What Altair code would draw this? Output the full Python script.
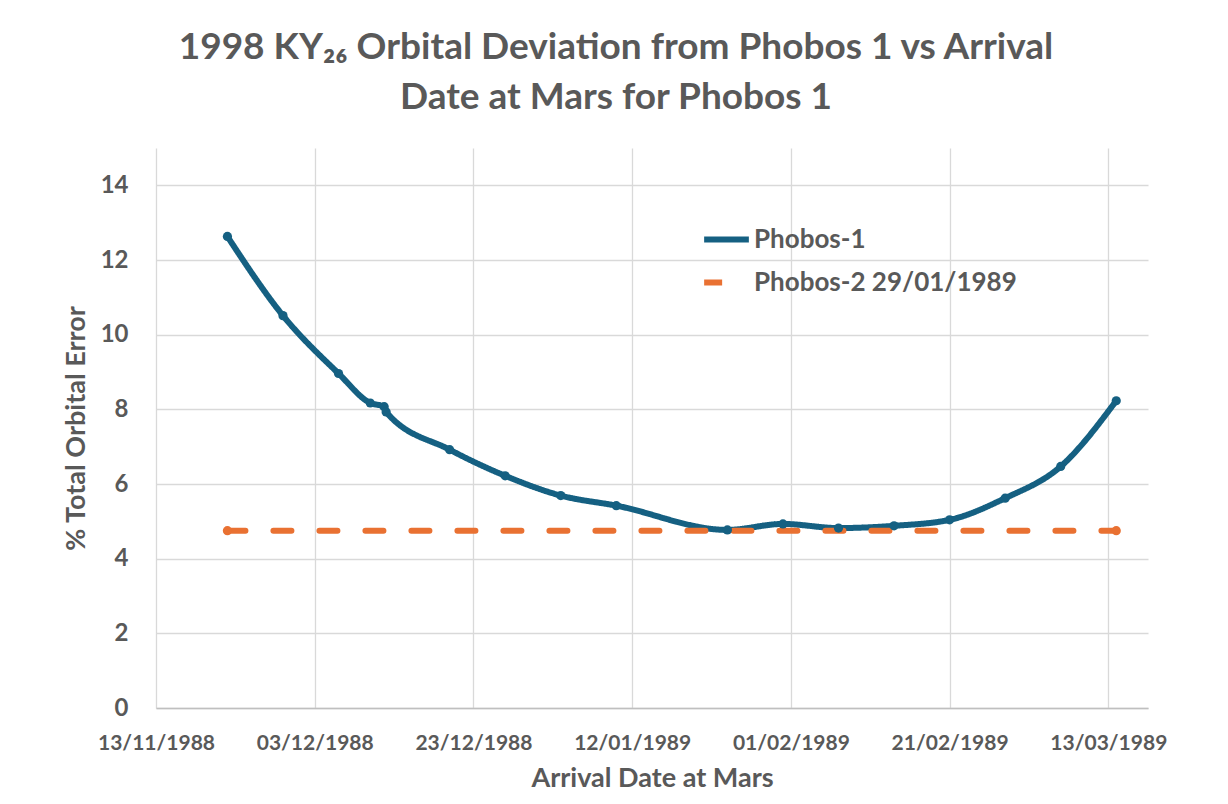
import altair as alt
import pandas as pd

# Phobos-1 series (arrival date at Mars, % total orbital error)
p1_dates = ["1988-11-22T00:00:00Z", "1988-11-29T00:00:00Z", "1988-12-06T00:00:00Z",
            "1988-12-10T00:00:00Z", "1988-12-11T18:00:00Z", "1988-12-12T00:00:00Z",
            "1988-12-20T00:00:00Z", "1988-12-27T00:00:00Z", "1989-01-03T00:00:00Z",
            "1989-01-10T00:00:00Z", "1989-01-24T00:00:00Z", "1989-01-31T00:00:00Z",
            "1989-02-07T00:00:00Z", "1989-02-14T00:00:00Z", "1989-02-21T00:00:00Z",
            "1989-02-28T00:00:00Z", "1989-03-07T00:00:00Z", "1989-03-14T00:00:00Z"]
p1_values = [12.63, 10.51, 8.96, 8.17, 8.07, 7.93, 6.92, 6.22, 5.69, 5.42,
             4.77, 4.93, 4.82, 4.88, 5.04, 5.62, 6.47, 8.23]

# Phobos-2 reference level
p2_dates = ["1988-11-22T00:00:00Z", "1989-03-14T00:00:00Z"]
p2_values = [4.75, 4.75]

series_names = ["Phobos-1", "Phobos-2 29/01/1989"]
series_colors = ["#156082", "#E97132"]

y_ticks = [0, 2, 4, 6, 8, 10, 12, 14]
x_tick_dates = [(1988, 11, 13), (1988, 12, 3), (1988, 12, 23), (1989, 1, 12),
                (1989, 2, 1), (1989, 2, 21), (1989, 3, 13)]
x_domain = [(1988, 11, 13), (1989, 3, 18)]

df = pd.concat([
    pd.DataFrame({"date": p1_dates, "value": p1_values, "series": series_names[0]}),
    pd.DataFrame({"date": p2_dates, "value": p2_values, "series": series_names[1]}),
], ignore_index=True)

FONT = "Lato"
GREY = "#595959"

def dt(t):
    return alt.DateTime(year=t[0], month=t[1], date=t[2], utc=True)

x_enc = alt.X(
    "date:T",
    scale=alt.Scale(type="utc", domain=[dt(x_domain[0]), dt(x_domain[1])]),
    axis=alt.Axis(
        values=[dt(t) for t in x_tick_dates], format="%d/%m/%Y",
        title="Arrival Date at Mars", titlePadding=12,
        labelPadding=24, ticks=False, grid=True, labelOverlap=False,
        labelFlush=False,
    ),
)
y_enc = alt.Y(
    "value:Q",
    scale=alt.Scale(domain=[0, 15], nice=False),
    axis=alt.Axis(values=y_ticks, title="% Total Orbital Error",
                  titlePadding=10, labelPadding=28, ticks=False, domain=False,
                  labelFontSize=24),
)
color_scale = alt.Scale(domain=series_names, range=series_colors)

lines = alt.Chart(df).mark_line(strokeWidth=6, interpolate="monotone", strokeCap="round").encode(
    x=x_enc, y=y_enc,
    color=alt.Color("series:N", scale=color_scale, title=None,
                    legend=alt.Legend(orient="none", legendX=545, legendY=66,
                                      symbolType="stroke", symbolStrokeWidth=6,
                                      symbolSize=2000, labelFontSize=26,
                                      labelFont=FONT, labelFontWeight="bold",
                                      labelColor=GREY, rowPadding=4, labelOffset=2,
                                      labelLimit=400)),
    strokeDash=alt.StrokeDash("series:N", scale=alt.Scale(domain=series_names,
                                                           range=[[1, 0], [18, 28]]),
                              title=None),
)
points = alt.Chart(df).mark_circle(size=85, opacity=1).encode(
    x=x_enc, y=y_enc,
    color=alt.Color("series:N", scale=color_scale, legend=None),
)

chart = alt.layer(lines, points).properties(
    width=992, height=560,
    padding={"left": 148, "top": 140, "right": 70, "bottom": 84},
    autosize=alt.AutoSizeParams(type="none"),
    background="white",
    title=alt.TitleParams(
        text=["1998 KY\u2082\u2086 Orbital Deviation from Phobos 1 vs Arrival",
              "Date at Mars for Phobos 1"],
        anchor="middle", frame="group", dx=-36, offset=31,
        fontSize=37, lineHeight=50, font=FONT, fontWeight="bold", color=GREY,
    ),
).configure_view(stroke=None).configure_axis(
    labelFont=FONT, labelFontSize=21, labelFontWeight="bold", labelColor=GREY,
    titleFont=FONT, titleFontSize=27, titleFontWeight="bold", titleColor=GREY,
    gridColor="#D9D9D9", gridWidth=1.3, domainColor="#BFBFBF", domainWidth=1.3,
)

chart.save("out.html", embed_options={"renderer": "svg", "actions": False})
